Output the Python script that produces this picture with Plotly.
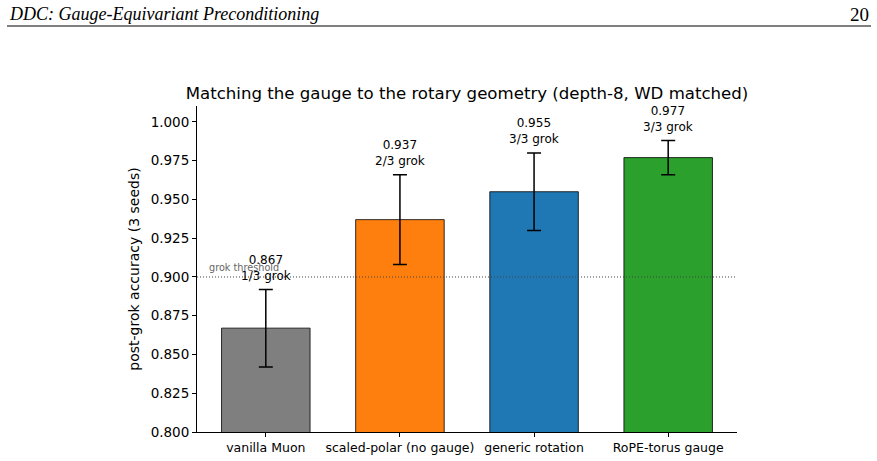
import plotly.graph_objects as go

categories = ["vanilla Muon", "scaled-polar (no gauge)", "generic rotation", "RoPE-torus gauge"]
means = [0.867, 0.937, 0.955, 0.977]
errors = [0.025, 0.029, 0.025, 0.011]
grok_counts = ["1/3 grok", "2/3 grok", "3/3 grok", "3/3 grok"]
colors = ["#7f7f7f", "#ff7f0e", "#1f77b4", "#2ca02c"]
threshold = 0.9
yticks = [0.800, 0.825, 0.850, 0.875, 0.900, 0.925, 0.950, 0.975, 1.000]

FONT = "DejaVu Sans"
xs = list(range(len(categories)))

fig = go.Figure()
fig.add_trace(go.Bar(
    x=xs, y=means, width=0.66,
    marker=dict(color=colors, line=dict(color="black", width=0.8)),
    error_y=dict(type="data", array=errors, visible=True, color="black", thickness=1.5, width=7),
    showlegend=False,
))

for x, m, e, g in zip(xs, means, errors, grok_counts):
    fig.add_annotation(x=x, y=m + e + 0.003, xref="x", yref="y",
                       text=f"{m:.3f}<br>{g}", showarrow=False, yanchor="bottom",
                       font=dict(family=FONT, size=12, color="black"))

fig.add_shape(type="line", xref="paper", yref="y", x0=0, x1=1, y0=threshold, y1=threshold,
              line=dict(color="#444444", width=1, dash="1px,2px"))
fig.add_annotation(x=-0.44, y=threshold + 0.0015, xref="x", yref="y", text="grok threshold",
                   showarrow=False, xanchor="left", yanchor="bottom",
                   font=dict(family=FONT, size=9.7, color="#666666"))

# page header
fig.add_annotation(text="<i>DDC: Gauge-Equivariant Preconditioning</i>", xref="paper", yref="paper",
                   x=(7 - 197) / 540, y=1 + (106 - 14) / 326, xanchor="left", yanchor="middle",
                   showarrow=False, font=dict(family="Liberation Serif", size=18, color="black"))
fig.add_annotation(text="20", xref="paper", yref="paper",
                   x=(871 - 197) / 540, y=1 + (106 - 14) / 326, xanchor="right", yanchor="middle",
                   showarrow=False, font=dict(family="Liberation Serif", size=19, color="black"))
fig.add_shape(type="line", xref="paper", yref="paper",
              x0=(7 - 197) / 540, x1=(871 - 197) / 540,
              y0=1 + (106 - 26) / 326, y1=1 + (106 - 26) / 326,
              line=dict(color="black", width=1))

fig.update_layout(
    width=877, height=461,
    margin=dict(l=197, r=140, t=106, b=29, autoexpand=False),
    plot_bgcolor="white", paper_bgcolor="white",
    title=dict(text="Matching the gauge to the rotary geometry (depth-8, WD matched)",
               x=467 / 877, xanchor="center", y=1 - 93 / 461, yanchor="middle",
               font=dict(family=FONT, size=16.6, color="black")),
    xaxis=dict(range=[-0.513, 3.513], tickvals=xs, ticktext=categories, showgrid=False,
               zeroline=False, showline=True, linecolor="black", linewidth=1,
               ticks="outside", ticklen=4, tickcolor="black",
               tickfont=dict(family=FONT, size=12.5, color="black")),
    yaxis=dict(range=[0.8, 1.0103], tickvals=yticks, ticktext=[f"{v:.3f}" for v in yticks],
               showgrid=False, zeroline=False, showline=True, linecolor="black", linewidth=1,
               ticks="outside", ticklen=4, tickcolor="black",
               tickfont=dict(family=FONT, size=13.5, color="black"),
               title=dict(text="post-grok accuracy (3 seeds)", font=dict(family=FONT, size=14, color="black"),
                          standoff=7)),
)

fig.write_html("out.html")
